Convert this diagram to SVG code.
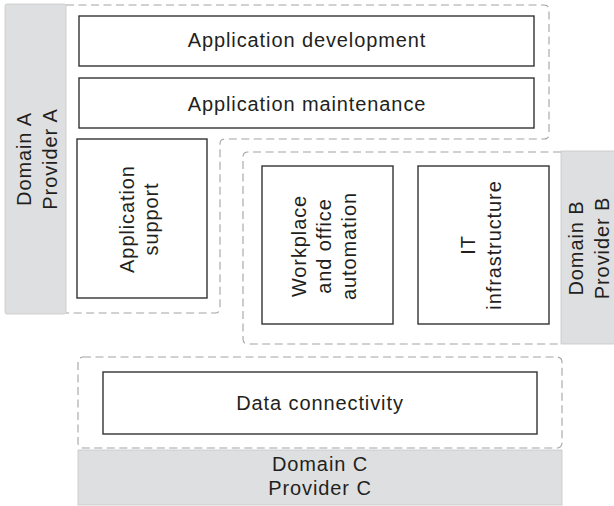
<svg xmlns="http://www.w3.org/2000/svg" width="614" height="506" viewBox="0 0 614 506">
<defs>
<style>
.dash{fill:none;stroke:#a3a3a3;stroke-width:1.1;stroke-dasharray:8,4.5}
.grey{fill:#dedfe1;stroke:#c6c6c6;stroke-width:0.8}
.box{fill:#ffffff;stroke:#333333;stroke-width:1.4}
.t{font-family:"Liberation Sans",Arial,Helvetica,sans-serif;font-size:20px;letter-spacing:0.9px;fill:#231f20;text-anchor:middle}
</style>
</defs>
<rect width="614" height="506" fill="#ffffff"/>
<g id="regions">
<path class="dash" d="M66,5 H544 Q549,5 549,10 V134 Q549,139 544,139 H225 Q220,139 220,144 V308 Q220,313 215,313 H66"/>
<path class="dash" d="M561,152 H248 Q243,152 243,157 V339 Q243,344 248,344 H561"/>
<rect class="dash" x="78" y="357" width="484" height="91" rx="5"/>
</g>
<g id="domainA">
<rect class="grey" x="5" y="4" width="61" height="310" rx="2"/>
<text class="t" transform="translate(31,159) rotate(-90)">Domain A</text>
<text class="t" transform="translate(57,159) rotate(-90)">Provider A</text>
</g>
<g id="domainB">
<rect class="grey" x="561" y="151" width="56" height="193"/>
<text class="t" transform="translate(583,248) rotate(-90)">Domain B</text>
<text class="t" transform="translate(609,248) rotate(-90)">Provider B</text>
</g>
<g id="domainC">
<rect class="grey" x="78" y="450" width="484" height="55"/>
<text class="t" x="320" y="471">Domain C</text>
<text class="t" x="320" y="495">Provider C</text>
</g>
<g id="appDevelopment">
<rect class="box" x="79" y="16" width="455" height="50"/>
<text class="t" x="307" y="47">Application development</text>
</g>
<g id="appMaintenance">
<rect class="box" x="79" y="78" width="455" height="50"/>
<text class="t" x="307" y="111">Application maintenance</text>
</g>
<g id="appSupport">
<rect class="box" x="77" y="139" width="130" height="159"/>
<text class="t" transform="translate(134,219) rotate(-90)">Application</text>
<text class="t" transform="translate(158,219) rotate(-90)">support</text>
</g>
<g id="workplace">
<rect class="box" x="262" y="166" width="131" height="158"/>
<text class="t" transform="translate(306,246) rotate(-90)">Workplace</text>
<text class="t" transform="translate(331,246) rotate(-90)">and office</text>
<text class="t" transform="translate(356,246) rotate(-90)">automation</text>
</g>
<g id="itInfrastructure">
<rect class="box" x="418" y="166" width="131" height="158"/>
<text class="t" transform="translate(475,245) rotate(-90)">IT</text>
<text class="t" transform="translate(501,245) rotate(-90)">infrastructure</text>
</g>
<g id="dataConnectivity">
<rect class="box" x="103" y="372" width="434" height="62"/>
<text class="t" x="320" y="410">Data connectivity</text>
</g>
<g id="connectors"></g>
</svg>
